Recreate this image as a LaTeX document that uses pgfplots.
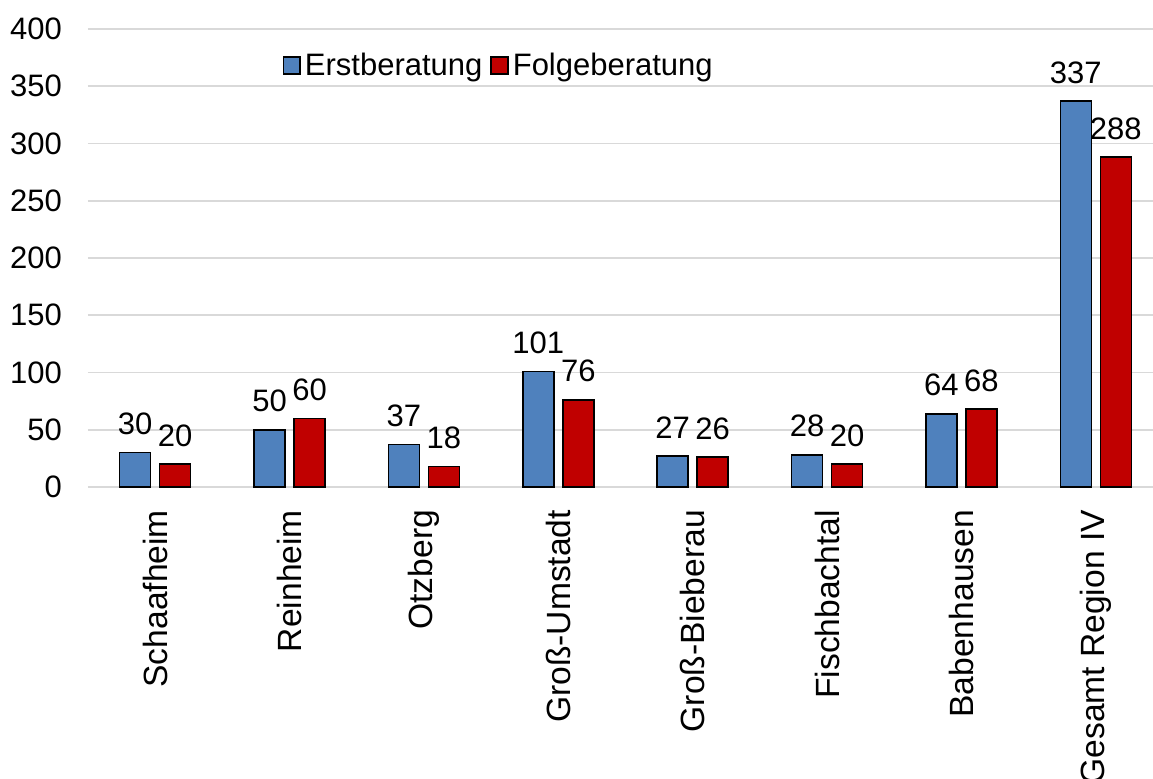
\documentclass[border=0pt]{standalone}
\usepackage{pgfplots}
\pgfplotsset{compat=1.18}
\usepackage{fontspec}
\setmainfont{Liberation Sans}
\definecolor{cblue}{HTML}{4F81BD}
\definecolor{cred}{HTML}{C00000}
\definecolor{cgrid}{HTML}{D9D9D9}
\begin{document}
\begin{tikzpicture}
\useasboundingbox (-44pt,-145.5pt) rectangle (532.5pt,243.5pt);
\begin{axis}[
  scale only axis,
  width=537.5pt, height=229pt,
  ybar=4.5pt, bar width=15.5pt,
  xmin=-0.5, xmax=7.5,
  ymin=0, ymax=400,
  ytick={0,50,...,400},
  xtick=data,
  xticklabels={Schaafheim,Reinheim,Otzberg,Groß-Umstadt,Groß-Bieberau,Fischbachtal,Babenhausen,Gesamt Region IV},
  xticklabel style={rotate=90, anchor=east, font=\fontsize{16.8}{19}\selectfont, xshift=-8pt},
  yticklabel style={font=\fontsize{15.5}{18}\selectfont, xshift=-9.5pt},
  /pgf/number format/assume math mode=true,
  axis line style={draw=none},
  major tick length=0pt,
  ymajorgrids,
  grid style={cgrid, line width=0.8pt},
  nodes near coords,
  nodes near coords style={font=\fontsize{15.5}{18}\selectfont, black, inner sep=2pt, yshift=6.5pt},
  legend style={at={(0.175,0.92)}, anchor=west, draw=none, fill=none,
    font=\fontsize{15.5}{18}\selectfont, legend columns=2,
    /tikz/every even column/.append style={column sep=2pt}},
  legend image code/.code={\draw[#1, draw=black, line width=0.8pt] (0pt,-4.2pt) rectangle (8.4pt,4.2pt);},
]
\addplot[fill=cblue, draw=black, line width=0.8pt] coordinates {(0,30) (1,50) (2,37) (3,101) (4,27) (5,28) (6,64) (7,337)};
\addplot[fill=cred, draw=black, line width=0.8pt] coordinates {(0,20) (1,60) (2,18) (3,76) (4,26) (5,20) (6,68) (7,288)};
\legend{Erstberatung,Folgeberatung}
\end{axis}
\end{tikzpicture}
\end{document}
